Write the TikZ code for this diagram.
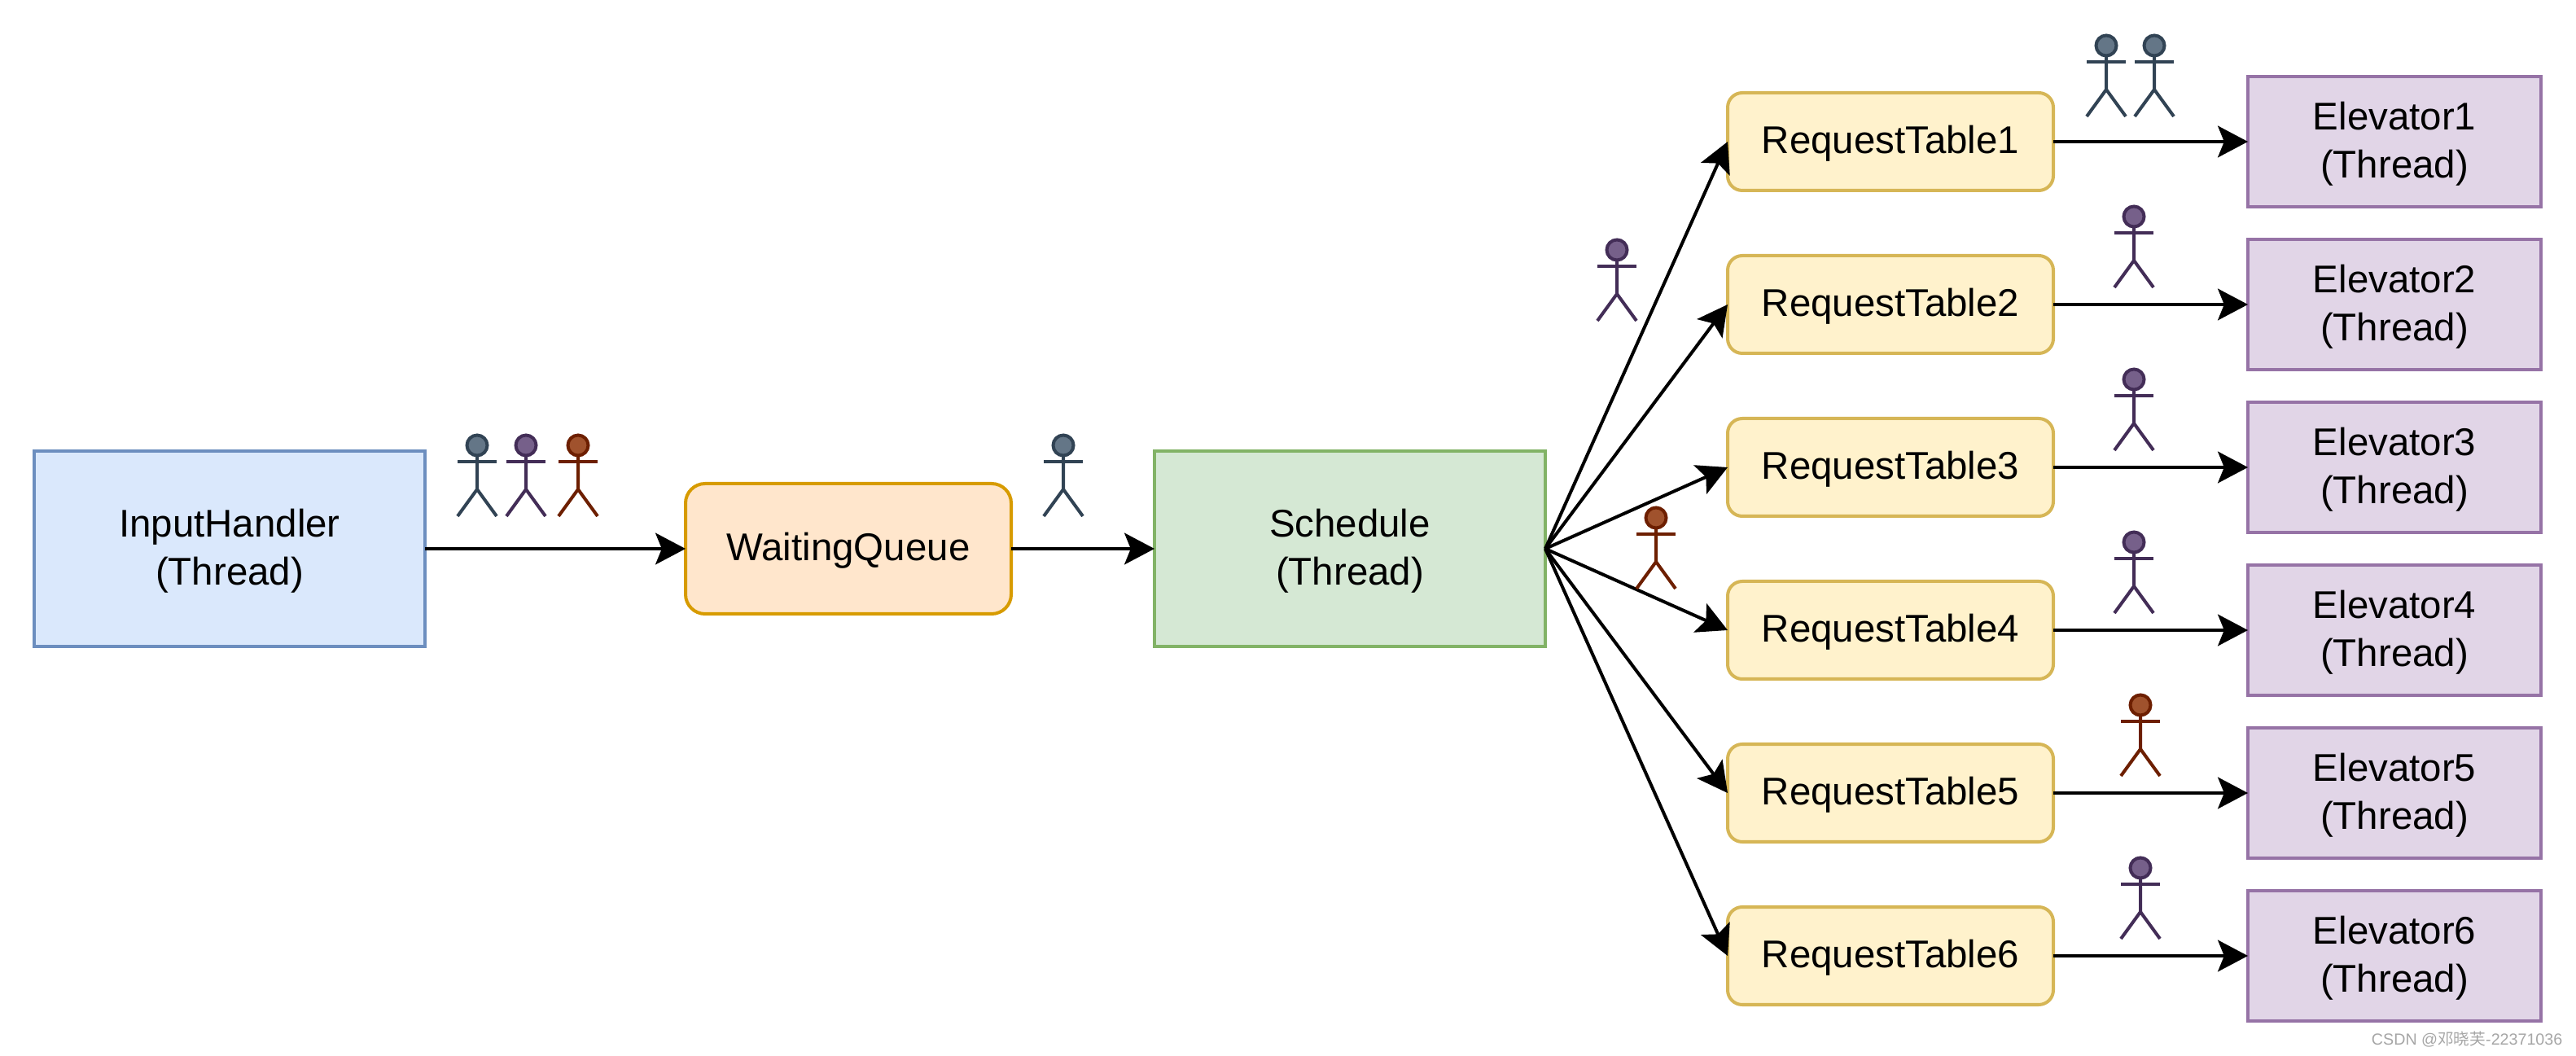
\documentclass[tikz,border=0pt]{standalone}
\usepackage{fontspec}
\setmainfont{Liberation Sans}
\newfontfamily\cjkfont{Noto Sans CJK SC}
\usetikzlibrary{arrows.meta}

\definecolor{azulR}{HTML}{DAE8FC}
\definecolor{azulL}{HTML}{6C8EBF}
\definecolor{naranjaR}{HTML}{FFE6CC}
\definecolor{naranjaL}{HTML}{D79B00}
\definecolor{verdeR}{HTML}{D5E8D4}
\definecolor{verdeL}{HTML}{82B366}
\definecolor{amarilloR}{HTML}{FFF2CC}
\definecolor{amarilloL}{HTML}{D6B656}
\definecolor{moradoR}{HTML}{E1D5E7}
\definecolor{moradoL}{HTML}{9673A6}
\definecolor{grisR}{HTML}{647687}
\definecolor{grisL}{HTML}{314354}
\definecolor{lilaR}{HTML}{76608A}
\definecolor{lilaL}{HTML}{432D57}
\definecolor{cafeR}{HTML}{A0522D}
\definecolor{cafeL}{HTML}{6D1F00}

\begin{document}
\begin{tikzpicture}[scale=1]

% definiciones

% estilos de cajas y flechas
\tikzstyle{caja}   = [draw,line width=1.14pt,align=center,inner sep=0pt,outer sep=0pt,
	font={\fontsize{13.5pt}{16.9pt}\selectfont}]
\tikzstyle{unalin} = [caja,text height=11.2pt,text depth=2.8pt]
\tikzstyle{doslin} = [caja,text height=28.1pt,text depth=2.8pt]
\tikzstyle{hilo}   = [doslin,minimum width=4.8cm,minimum height=2.4cm]
\tikzstyle{tabla}  = [unalin,draw=amarilloL,fill=amarilloR,rounded corners=0.18cm,
	minimum width=4.0cm,minimum height=1.2cm]
\tikzstyle{elev}   = [doslin,draw=moradoL,fill=moradoR,minimum width=3.6cm,minimum height=1.6cm]
\tikzstyle{flecha} = [line width=1.14pt,-{Stealth[length=10.5pt,width=11pt,inset=2.2pt]}]

% persona
% #1: coordenada del centro de la cabeza
% #2: color de linea
% #3: color de relleno
\newcommand{\persona}[3]{
	\coordinate (O) at #1; % ubicación de la cabeza
	\draw [#2,line width=1.14pt] (O) ++(0,-0.14) -- ++(0,-0.40) -- ++(-0.24,-0.33);
	\draw [#2,line width=1.14pt] (O) ++(0,-0.54) -- ++(0.24,-0.33);
	\draw [#2,line width=1.14pt] (O) ++(-0.24,-0.20) -- ++(0.48,0);
	\draw [#2,fill=#3,line width=1.14pt] (O) circle (0.125);
}

\useasboundingbox (0,0) rectangle (31.64,12.96);

% hilos y cola
\node [hilo,draw=azulL,fill=azulR] (input) at (2.82,6.22) {InputHandler\\(Thread)};
\node [unalin,draw=naranjaL,fill=naranjaR,rounded corners=0.24cm,minimum width=4.0cm,minimum height=1.6cm]
	(cola) at (10.42,6.22) {WaitingQueue};
\node [hilo,draw=verdeL,fill=verdeR] (sched) at (16.58,6.22) {Schedule\\(Thread)};

% tablas y ascensores
\foreach \i in {1,...,6} {
	\pgfmathsetmacro{\yy}{11.22-2*(\i-1)}
	\node [tabla] (tabla\i) at (23.22,\yy) {RequestTable\i};
	\node [elev] (elev\i) at (29.41,\yy) {Elevator\i\\(Thread)};
	\draw [flecha] (sched.east) -- (tabla\i.west);
	\draw [flecha] (tabla\i.east) -- (elev\i.west);
}

\draw [flecha] (input.east) -- (cola.west);
\draw [flecha] (cola.east) -- (sched.west);

% personas
\persona{(5.86,7.49)}{grisL}{grisR}
\persona{(6.46,7.49)}{lilaL}{lilaR}
\persona{(7.10,7.49)}{cafeL}{cafeR}
\persona{(13.06,7.49)}{grisL}{grisR}
\persona{(19.86,9.89)}{lilaL}{lilaR}
\persona{(20.34,6.60)}{cafeL}{cafeR}
\persona{(25.87,12.40)}{grisL}{grisR}
\persona{(26.46,12.40)}{grisL}{grisR}
\persona{(26.21,10.30)}{lilaL}{lilaR}
\persona{(26.21,8.30)}{lilaL}{lilaR}
\persona{(26.21,6.30)}{lilaL}{lilaR}
\persona{(26.29,4.30)}{cafeL}{cafeR}
\persona{(26.29,2.30)}{lilaL}{lilaR}

% marca de agua
\node [anchor=east,inner sep=0pt,text=black!35,font=\fontsize{5.6pt}{6pt}\selectfont] (marca) at (31.48,0.19)
	{CSDN @{\cjkfont 邓晓芙}-22371036};

\end{tikzpicture}
\end{document}
